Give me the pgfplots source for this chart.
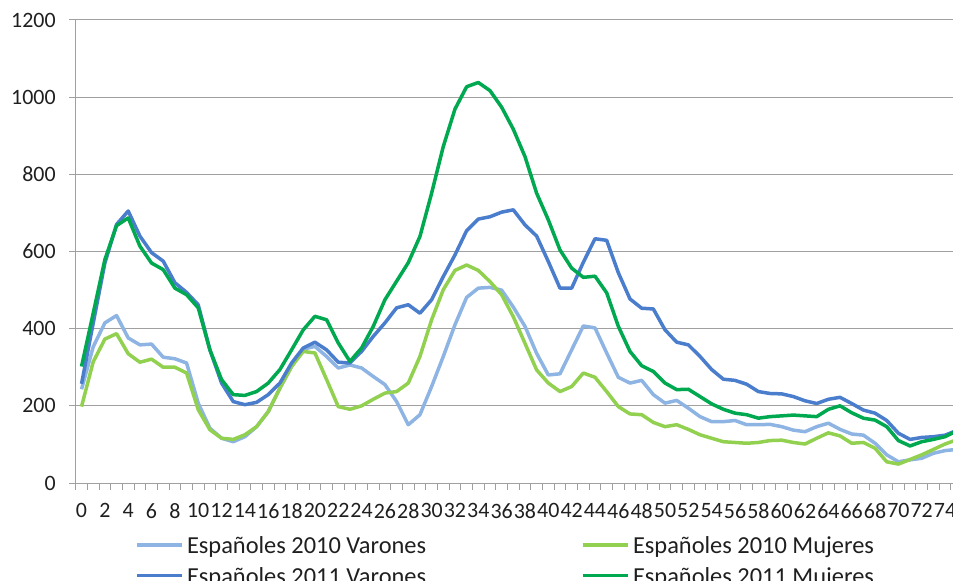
\documentclass[border=0pt]{standalone}
\usepackage{pgfplots}
\usepackage{pgfplotstable}
\pgfplotsset{compat=1.18}
\usepackage{fontspec}
\setmainfont{Carlito}
\definecolor{lb}{HTML}{8DB4E2}
\definecolor{lg}{HTML}{92D050}
\definecolor{db}{HTML}{4A7ECD}
\definecolor{dg}{HTML}{00A850}
\definecolor{gridc}{HTML}{A0A0A0}
\pgfplotstableread{
x lb lg db dg
0 243 198 257 302
1 353 314 414 440
2 415 373 570 579
3 434 387 670 667
4 376 335 705 687
5 358 313 640 614
6 360 321 597 570
7 326 300 575 553
8 322 300 519 505
9 311 285 494 488
10 207 190 462 454
11 142 138 345 345
12 116 116 259 268
13 107 113 211 229
14 120 125 203 227
15 146 146 209 237
16 185 185 229 259
17 246 246 259 294
18 302 302 311 345
19 347 341 350 397
20 354 337 365 432
21 328 268 345 423
22 298 198 313 363
23 306 191 311 315
24 298 200 341 350
25 276 217 380 406
26 255 233 415 475
27 211 237 454 523
28 151 259 462 571
29 177 328 440 639
30 250 423 475 751
31 328 501 535 872
32 410 551 591 969
33 481 565 654 1027
34 505 551 684 1038
35 507 522 690 1017
36 500 488 702 974
37 456 431 708 917
38 406 362 669 846
39 336 293 640 751
40 280 259 574 682
41 283 237 505 604
42 345 250 505 557
43 407 285 572 533
44 402 274 633 536
45 337 237 629 493
46 274 198 545 406
47 259 179 477 341
48 266 177 453 304
49 229 157 451 289
50 207 146 397 259
51 214 151 365 242
52 194 139 358 243
53 172 125 328 224
54 159 116 294 205
55 159 107 269 191
56 162 105 266 181
57 151 103 256 177
58 151 105 237 168
59 152 110 232 172
60 146 111 231 174
61 137 105 224 176
62 133 101 213 174
63 146 116 206 172
64 155 130 217 191
65 139 122 222 200
66 127 103 206 182
67 124 105 189 168
68 103 90 181 163
69 73 55 162 146
70 55 49 129 110
71 60 61 113 96
72 64 73 118 107
73 77 87 120 113
74 84 101 124 120
75 87 112 136 135
}\datatable
\begin{document}
\begin{tikzpicture}
\useasboundingbox (0,0) rectangle (953bp,581bp);
\begin{axis}[
  scale only axis,
  width=877.3bp, height=463bp,
  at={(75.7bp,98bp)}, anchor=south west,
  xmin=-0.5, xmax=74.68, ymin=0, ymax=1200,
  axis x line*=bottom, axis y line*=left,
  axis line style={gridc, line width=1bp},
  xtick={-0.5,0.5,...,74.5}, xticklabels={},
  extra x ticks={0,2,...,74},
  extra x tick labels={0,2,4,6,8,10,12,14,16,18,20,22,24,26,28,30,32,34,36,38,40,42,44,46,48,50,52,54,56,58,60,62,64,66,68,70,72,74},
  extra x tick style={major tick length=0pt, tick label style={yshift=-17bp}},
  ytick={0,200,...,1200},
  yticklabel style={xshift=-10bp},
  ymajorgrids, grid style={gridc, line width=1bp},
  tick style={gridc, line width=1bp},
  tick align=outside, major tick length=6.5bp,
  ticklabel style={font=\fontsize{22}{22}\selectfont, text=black!88},
  /pgf/number format/assume math mode=true,
  /pgf/number format/1000 sep={},
  legend columns=2,
  legend cell align=left,
  legend style={draw=none, fill=none, inner sep=0pt, outer sep=0pt,
    at={(axis description cs:0.0676,-0.1123)}, anchor=north west,
    font=\fontsize{24.5}{24.5}\selectfont,
    row sep=6.5bp,
    nodes={inner sep=0pt, text height=19bp, text depth=5bp, text=black!88},
    /tikz/every odd column/.append style={column sep=3.5bp}},
  legend image code/.code={\draw[#1, line width=3.5bp] (0bp,2bp) -- (45bp,2bp);},
  every axis plot/.append style={line width=3.5bp, line join=round},
]
\addplot[lb] table[x=x, y=lb] {\datatable};
\addplot[lg] table[x=x, y=lg] {\datatable};
\addplot[db] table[x=x, y=db] {\datatable};
\addplot[dg] table[x=x, y=dg] {\datatable};
\legend{\makebox[394bp][l]{Españoles 2010 Varones}, Españoles 2010 Mujeres, \makebox[394bp][l]{Españoles 2011 Varones}, Españoles 2011 Mujeres}
\end{axis}
\end{tikzpicture}
\end{document}
